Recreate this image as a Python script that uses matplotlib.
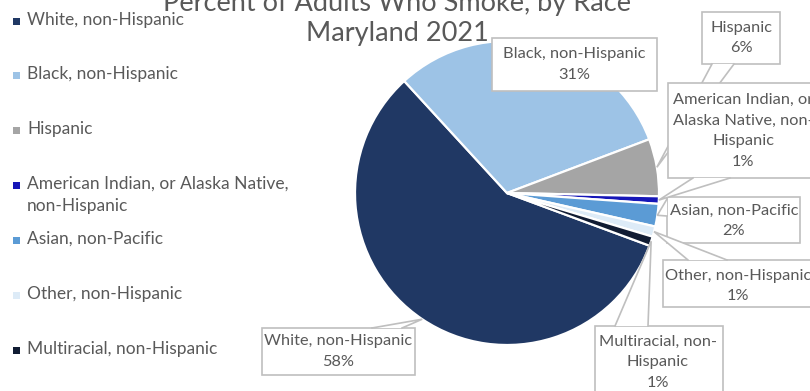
import matplotlib
matplotlib.use("Agg")
import matplotlib.pyplot as plt
from matplotlib.patches import Rectangle, Polygon
import numpy as np

plt.rcParams['font.family'] = ['Lato', 'DejaVu Sans']

# Share of adult smokers by race/ethnicity, Maryland 2021 (percent)
categories = [
    "White, non-Hispanic",
    "Black, non-Hispanic",
    "Hispanic",
    "American Indian, or Alaska Native, non-Hispanic",
    "Asian, non-Pacific",
    "Other, non-Hispanic",
    "Multiracial, non-Hispanic",
]
shares = [57.6, 31.1, 6.1, 0.8, 2.4, 1.1, 1.0]
colors = ["#203864", "#9DC3E6", "#A5A5A5", "#1616B8", "#5B9BD5", "#DDEBF7", "#111C33"]

legend_labels = [
    "White, non-Hispanic",
    "Black, non-Hispanic",
    "Hispanic",
    "American Indian, or Alaska Native,\nnon-Hispanic",
    "Asian, non-Pacific",
    "Other, non-Hispanic",
    "Multiracial, non-Hispanic",
]
callout_names = [
    "White, non-Hispanic",
    "Black, non-Hispanic",
    "Hispanic",
    "American Indian, or\nAlaska Native, non-\nHispanic",
    "Asian, non-Pacific",
    "Other, non-Hispanic",
    "Multiracial, non-\nHispanic",
]

W, H = 810, 391
TEXT = "#595959"
EDGE = "#BFBFBF"

fig = plt.figure(figsize=(W / 100, H / 100), dpi=100)
ax = fig.add_axes([0, 0, 1, 1])


def P(x, y):
    """Canvas position measured from the top-left corner."""
    return (x, H - y)


center = P(507, 193)
radius = 152
wedges, _ = ax.pie(shares, colors=colors, center=center, radius=radius,
                   startangle=-20.3, counterclock=False,
                   wedgeprops=dict(edgecolor="white", linewidth=1.6),
                   frame=True)
ax.set_xlim(0, W)
ax.set_ylim(0, H)
ax.set_aspect("auto")
ax.axis("off")

total = sum(shares)
pct = [f"{v / total * 100:.0f}%" for v in shares]

# Title (first line runs off the top edge)
ax.text(*P(397, 3), "Percent of Adults Who Smoke, by Race", ha="center",
        va="center", fontsize=19.5, color=TEXT)
ax.text(*P(397, 33), "Maryland 2021", ha="center", va="center",
        fontsize=19.5, color=TEXT)

# Legend on the left
legend_y = [21, 75, 130, 185, 240, 295, 350]
for lab, col, y in zip(legend_labels, colors, legend_y):
    ax.add_patch(Rectangle(P(13, y + 3.5), 7, 7, facecolor=col,
                           edgecolor="none"))
    ax.text(*P(27, y - 9), lab, ha="left", va="top", fontsize=12.5,
            color=TEXT, linespacing=1.5)


def tip_of(w):
    th = np.deg2rad((w.theta1 + w.theta2) / 2)
    return (center[0] + radius * np.cos(th), center[1] + radius * np.sin(th))


# Data callouts: box (left, top, right, bottom), tail base points, z-order
callouts = {
    0: dict(box=(262, 328, 415, 375), base=[(372, 328), (402, 328)], z=5),
    1: dict(box=(492, 38, 657, 91), base=None, z=5),
    2: dict(box=(702, 12, 780, 64), base=[(712, 64), (734, 64)], z=4),
    3: dict(box=(668, 83, 824, 178), base=[(693, 178), (730, 178)], z=6),
    4: dict(box=(667, 197, 800, 243), base=[(667, 199), (667, 216)], z=6),
    5: dict(box=(663, 260, 820, 307), base=[(688, 260), (727, 260)], z=6),
    6: dict(box=(595, 326, 723, 402), base=[(615, 326), (648, 326)], z=6),
}
text_centers = {3: (743, 131), 4: (734, 221), 5: (738, 286), 6: (658, 362)}

for i, spec in callouts.items():
    x0, y0, x1, y1 = spec["box"]
    z = spec["z"]
    ax.add_patch(Rectangle(P(x0, y1), x1 - x0, y1 - y0, facecolor="white",
                           edgecolor=EDGE, linewidth=1.2, zorder=z))
    if spec["base"] is not None:
        tip = tip_of(wedges[i])
        b0, b1 = P(*spec["base"][0]), P(*spec["base"][1])
        ax.add_patch(Polygon([b0, tip, b1], closed=True, facecolor="white",
                             edgecolor="none", zorder=z + 0.1))
        ax.plot([b0[0], tip[0], b1[0]], [b0[1], tip[1], b1[1]], color=EDGE,
                linewidth=1.2, zorder=z + 0.2, solid_joinstyle="miter")
    cx, cy = text_centers.get(i, ((x0 + x1) / 2, (y0 + y1) / 2))
    ax.text(*P(cx, cy), callout_names[i] + "\n" + pct[i], ha="center",
            va="center", fontsize=11.8, color=TEXT, linespacing=1.6,
            zorder=z + 0.3)

fig.savefig("out.png", dpi=100, facecolor="white")
